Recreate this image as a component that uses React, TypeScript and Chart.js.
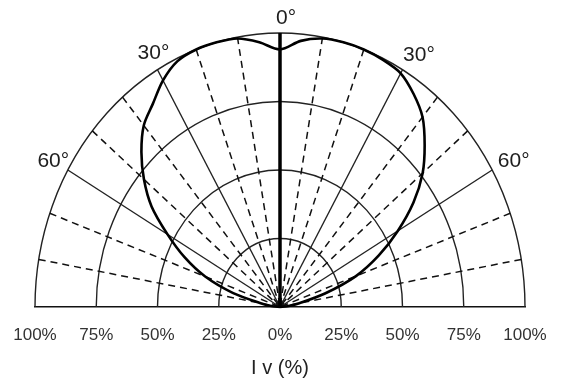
import React, { useEffect, useRef } from 'react';
import { Chart, registerables } from 'chart.js';

Chart.register(...registerables);

// ---- data ----
const angleDeg = [-90, -85, -80, -75, -70, -65, -60, -55, -50, -45, -40, -35, -30, -25, -20, -15, -10, -5, 0,
  5, 10, 15, 20, 25, 30, 35, 40, 45, 50, 55, 60, 65, 70, 75, 80, 85, 90];
const intensityPct = [0, 3, 8, 20, 32.5, 43, 53, 64, 72.5, 80, 86.5, 90.5, 95.5, 99, 100, 100, 99.5, 97, 94,
  97.5, 99.5, 100, 100, 99.5, 98.5, 95, 90.5, 83.5, 76, 66.5, 55.5, 44.5, 33, 19, 8, 3, 0];

const ringValues = [25, 50, 75, 100];
const solidSpokes = [-60, -30, 30, 60];
const dashedSpokes = [-80, -70, -50, -40, -20, -10, 10, 20, 40, 50, 70, 80];
const axisTickValues = [-100, -75, -50, -25, 0, 25, 50, 75, 100];
const axisTickLabels = ['100%', '75%', '50%', '25%', '0%', '25%', '50%', '75%', '100%'];
const angleLabelAngles = [-60, -30, 0, 30, 60];
const angleLabelTexts = ['60°', '30°', '0°', '30°', '60°'];
const axisTitle = 'I v (%)';

// ---- style ----
const FONT = '"Liberation Sans", Arial, Helvetica, sans-serif';
const angleLabelOffsets: [number, number][] = [[-14.5, -9], [-4, -17], [6, -15], [16.5, -15], [21.5, -9]];

const rad = (a: number) => (a * Math.PI) / 180;

const polarGrid = {
  id: 'polarGrid',
  beforeDatasetsDraw(chart: any) {
    const xs = chart.scales.x;
    const ys = chart.scales.y;
    const ctx = chart.ctx as CanvasRenderingContext2D;
    const cx = xs.getPixelForValue(0);
    const cy = ys.getPixelForValue(0);
    const pt = (r: number, a: number) => [
      xs.getPixelForValue(r * Math.sin(rad(a))),
      ys.getPixelForValue(r * Math.cos(rad(a))),
    ];
    ctx.save();
    ctx.strokeStyle = '#222';
    ctx.lineWidth = 1.4;
    ringValues.forEach((r) => {
      ctx.beginPath();
      ctx.ellipse(cx, cy, xs.getPixelForValue(r) - cx, cy - ys.getPixelForValue(r), 0, Math.PI, 2 * Math.PI);
      ctx.stroke();
    });
    solidSpokes.forEach((a) => {
      const [x, y] = pt(100, a);
      ctx.beginPath();
      ctx.moveTo(cx, cy);
      ctx.lineTo(x, y);
      ctx.stroke();
    });
    ctx.strokeStyle = '#111';
    ctx.lineWidth = 1.5;
    ctx.setLineDash([7, 5]);
    dashedSpokes.forEach((a) => {
      const [x, y] = pt(100, a);
      ctx.beginPath();
      ctx.moveTo(x, y);
      ctx.lineTo(cx, cy);
      ctx.stroke();
    });
    ctx.setLineDash([]);
    ctx.strokeStyle = '#000';
    ctx.lineWidth = 3.5;
    const [tx, ty] = pt(100, 0);
    ctx.beginPath();
    ctx.moveTo(cx, cy);
    ctx.lineTo(tx, ty);
    ctx.stroke();
    ctx.restore();
  },
  afterDraw(chart: any) {
    const xs = chart.scales.x;
    const ys = chart.scales.y;
    const ctx = chart.ctx as CanvasRenderingContext2D;
    ctx.save();
    ctx.fillStyle = '#1e1e1e';
    ctx.font = `21px ${FONT}`;
    ctx.textAlign = 'center';
    ctx.textBaseline = 'middle';
    angleLabelAngles.forEach((a, i) => {
      const x = xs.getPixelForValue(100 * Math.sin(rad(a))) + angleLabelOffsets[i][0];
      const y = ys.getPixelForValue(100 * Math.cos(rad(a))) + angleLabelOffsets[i][1];
      ctx.fillText(angleLabelTexts[i], x, y);
    });
    ctx.restore();
  },
};

export default function App() {
  const ref = useRef<HTMLCanvasElement | null>(null);

  useEffect(() => {
    if (!ref.current) return;
    const points = angleDeg.map((a, i) => ({
      x: intensityPct[i] * Math.sin(rad(a)),
      y: intensityPct[i] * Math.cos(rad(a)),
    }));
    const chart = new Chart(ref.current, {
      type: 'scatter',
      data: {
        datasets: [
          {
            label: 'Iv',
            data: points,
            showLine: true,
            borderColor: '#000',
            borderWidth: 2.6,
            pointRadius: 0,
            tension: 0.3,
            fill: false,
            clip: false as any,
          },
        ],
      },
      options: {
        responsive: false,
        animation: false,
        devicePixelRatio: 1,
        layout: { padding: { left: 35, right: 36, top: 33, bottom: 0 } },
        plugins: { legend: { display: false }, tooltip: { enabled: false } },
        scales: {
          x: {
            type: 'linear',
            min: -100,
            max: 100,
            afterBuildTicks: (scale: any) => {
              scale.ticks = axisTickValues.map((v) => ({ value: v }));
            },
            afterFit: (scale: any) => {
              scale.height = 78;
            },
            grid: { display: false, drawTicks: false },
            border: { display: true, color: '#111', width: 1.6 },
            ticks: {
              autoSkip: false,
              maxRotation: 0,
              padding: 0,
              color: '#333',
              font: { family: FONT, size: 17, lineHeight: '56px' },
              callback: (_v: any, i: number) => axisTickLabels[i],
            },
            title: {
              display: true,
              text: axisTitle,
              color: '#222',
              font: { family: FONT, size: 20 },
              padding: { top: 0, bottom: 5 },
            },
          },
          y: { type: 'linear', min: 0, max: 100, display: false },
        },
      },
      plugins: [polarGrid],
    });
    return () => chart.destroy();
  }, []);

  return (
    <div style={{ position: 'absolute', left: 0, top: 0, width: 561, height: 385, background: '#fff' }}>
      <canvas ref={ref} width={561} height={385} style={{ display: 'block' }} />
    </div>
  );
}
